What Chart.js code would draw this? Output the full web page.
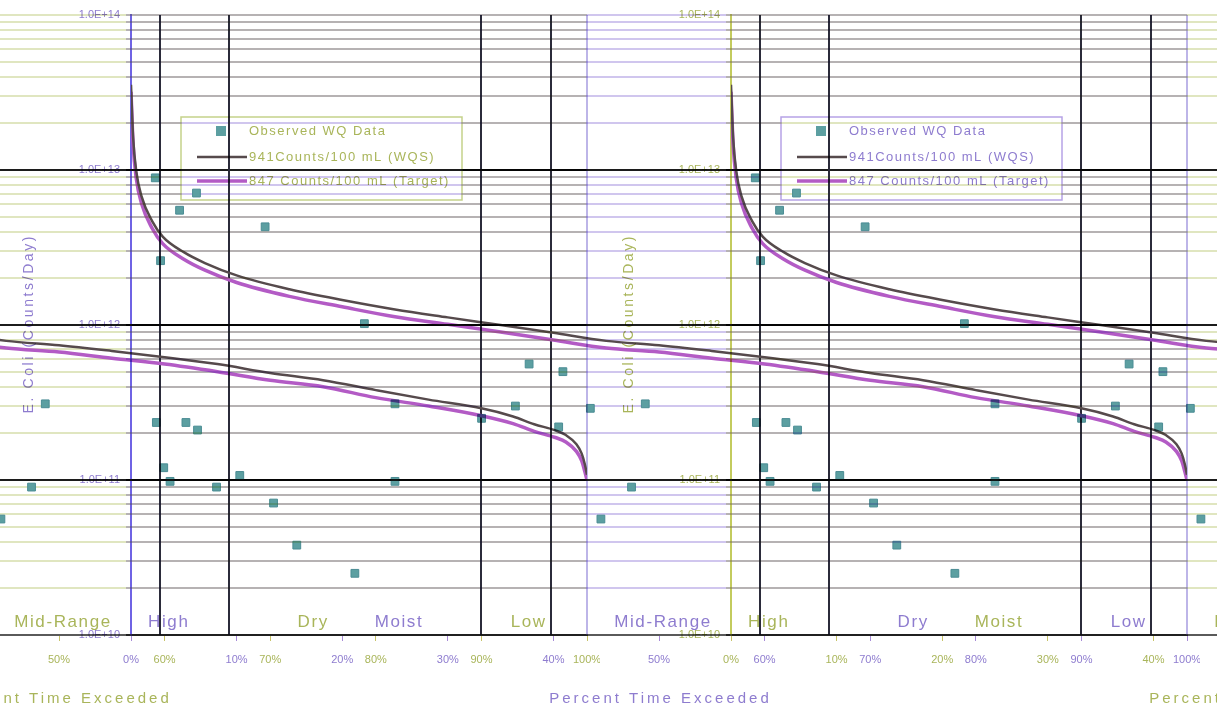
<!DOCTYPE html>
<html>
<head>
<meta charset="utf-8">
<script src="https://cdn.jsdelivr.net/npm/chart.js@4.4.0/dist/chart.umd.min.js"></script>
<style>
  html, body { margin: 0; padding: 0; background: #fff; }
  #wrap { position: relative; width: 1217px; height: 713px; overflow: hidden; background: #fff; isolation: isolate; }
  #wrap canvas { position: absolute; top: 0; mix-blend-mode: multiply; }
</style>
</head>
<body>
<div id="wrap">
  <canvas id="tileL" width="1200" height="713" style="left:-600px"></canvas>
  <canvas id="tileM" width="1200" height="713" style="left:0px"></canvas>
  <canvas id="tileR" width="1200" height="713" style="left:600px"></canvas>
</div>
<script>
// load duration curve (percent of time flow exceeded -> E. coli load, counts/day)
const PCT = [0, 0.2, 0.5, 1, 2, 3, 5, 7, 10, 15, 20, 25, 30, 35, 40, 45, 50, 55, 60, 65, 70, 75, 80, 85, 90, 93, 95, 97, 98, 99, 99.5, 99.8, 100]
const WQS_LOAD = [3.55e13, 1.62e13, 9.8e12, 6.76e12, 4.68e12, 3.72e12, 2.95e12, 2.51e12, 2.09e12, 1.70e12, 1.45e12, 1.26e12, 1.12e12, 1.00e12, 8.9e11, 7.9e11, 7.4e11, 6.8e11, 6.2e11, 5.6e11, 4.9e11, 4.4e11, 3.8e11, 3.3e11, 2.9e11, 2.57e11, 2.29e11, 2.09e11, 1.95e11, 1.70e11, 1.48e11, 1.26e11, 1.08e11]
const TARGET_LOAD = [3.2e13, 1.46e13, 8.8e12, 6.08e12, 4.21e12, 3.35e12, 2.66e12, 2.26e12, 1.88e12, 1.53e12, 1.31e12, 1.13e12, 1.01e12, 9.0e11, 8.0e11, 7.1e11, 6.7e11, 6.1e11, 5.6e11, 5.0e11, 4.4e11, 4.0e11, 3.4e11, 3.0e11, 2.6e11, 2.31e11, 2.06e11, 1.88e11, 1.76e11, 1.53e11, 1.33e11, 1.13e11, 1.0e11]

// observed water quality samples
const OBS_PCT = [2.3, 4.6, 6.2, 12.7, 2.8, 22.1, 48.7, 2.4, 5.2, 6.3, 3.1, 3.7, 47.4, 8.1, 10.3, 13.5, 15.7, 21.2, 25.0, 25.0, 33.2, 37.7, 36.4, 40.9, 40.5, 43.5, 44.5]
const OBS_LOAD = [8.9e12, 5.5e12, 7.1e12, 4.3e12, 2.6e12, 1.02e12, 3.1e11, 2.35e11, 2.35e11, 2.1e11, 1.2e11, 9.8e10, 9.0e10, 9.0e10, 1.07e11, 7.1e10, 3.8e10, 2.5e10, 3.1e11, 9.8e10, 2.5e11, 5.6e11, 3.0e11, 5.0e11, 2.2e11, 2.9e11, 5.6e10]

const SERIES_NAMES = ['Observed WQ Data', '941Counts/100 mL (WQS)', '847 Counts/100 mL (Target)']

// axes
const X_TICKS = [0, 10, 20, 30, 40, 50, 60, 70, 80, 90, 100]
const X_TICK_LABELS = ['0%', '10%', '20%', '30%', '40%', '50%', '60%', '70%', '80%', '90%', '100%']
const DECADES = [1e10, 1e11, 1e12, 1e13, 1e14]
const DECADE_LABELS = ['1.0E+10', '1.0E+11', '1.0E+12', '1.0E+13', '1.0E+14']
const MINOR_STEPS = [2, 3, 4, 5, 6, 7, 8, 9]

// flow regimes
const REGIME_BOUNDS = [9.3, 39.8, 59.6, 90]
const REGIME_NAMES = ['High', 'Moist', 'Mid-Range', 'Dry', 'Low']
const REGIME_LABEL_AT = [3.5, 25.3, 50.3, 74, 94.4]

const FONT = '"Liberation Sans", Arial, sans-serif'
const LEGEND_BOX = { left: 781, top: 117, width: 281, height: 83 }

// each tile gets its own colour cast (the picture is a folded, colour shifted copy)
const PURPLE = { text: '#8e7ccf', grid: '#d0c6ee', frame: '#6f63e4', tick: '#a88bd8', box: '#b6a3e6' }
const OLIVE = { text: '#a9b55a', grid: '#e0e6c0', frame: '#c3cb5e', tick: '#c8c46a', box: '#c5d28a' }

const Y_TICKS = []
DECADES.forEach((d, i) => {
  Y_TICKS.push(d)
  if (i < DECADES.length - 1) MINOR_STEPS.forEach(m => Y_TICKS.push(d * m))
})

const spacedText = (ctx, text, x, y, spacing) => {
  ctx.letterSpacing = spacing + 'px'
  ctx.fillText(text, x + spacing / 2, y)
  ctx.letterSpacing = '0px'
}

const makeDecor = (pal) => ({
  id: 'tileDecor',
  beforeDatasetsDraw: (chart) => {
    const { ctx, chartArea: a } = chart
    const x = chart.scales.x
    ctx.save()
    ctx.lineWidth = 2
    ctx.strokeStyle = '#2b2b3a'
    REGIME_BOUNDS.forEach(b => {
      const px = Math.round(x.getPixelForValue(b))
      ctx.beginPath()
      ctx.moveTo(px, a.top)
      ctx.lineTo(px, a.bottom)
      ctx.stroke()
    })
    // right edge of the plot
    ctx.strokeStyle = '#a79de0'
    ctx.lineWidth = 1.5
    ctx.beginPath()
    ctx.moveTo(a.right, a.top)
    ctx.lineTo(a.right, a.bottom)
    ctx.stroke()
    ctx.restore()
  },
  afterDraw: (chart) => {
    const { ctx, chartArea: a } = chart
    const x = chart.scales.x
    ctx.save()

    // regime names along the bottom
    ctx.fillStyle = pal.text
    ctx.font = '17px ' + FONT
    ctx.textAlign = 'center'
    ctx.textBaseline = 'alphabetic'
    REGIME_NAMES.forEach((n, i) => {
      spacedText(ctx, n, x.getPixelForValue(REGIME_LABEL_AT[i]), a.bottom - 8, 1.6)
    })

    // axis titles
    ctx.font = '15px ' + FONT
    spacedText(ctx, 'Percent Time Exceeded', x.getPixelForValue(50), 703, 3)
    ctx.save()
    ctx.translate(29, (a.top + a.bottom) / 2)
    ctx.rotate(-Math.PI / 2)
    ctx.font = '14px ' + FONT
    ctx.textBaseline = 'middle'
    spacedText(ctx, 'E. Coli (Counts/Day)', 0, 0, 2.6)
    ctx.restore()

    // legend box
    const b = LEGEND_BOX
    ctx.fillStyle = '#fff'
    ctx.fillRect(b.left, b.top, b.width, b.height)
    ctx.strokeStyle = pal.box
    ctx.lineWidth = 1.5
    ctx.strokeRect(b.left, b.top, b.width, b.height)
    const ds = chart.data.datasets
    const rows = [b.top + 14, b.top + 40, b.top + 64]
    ds.forEach((d, i) => {
      const cy = rows[i]
      if (i === 0) {
        ctx.fillStyle = d.backgroundColor
        ctx.fillRect(b.left + 35, cy - 5, 10, 10)
      } else {
        ctx.strokeStyle = d.borderColor
        ctx.lineWidth = d.borderWidth
        ctx.beginPath()
        ctx.moveTo(b.left + 16, cy)
        ctx.lineTo(b.left + 66, cy)
        ctx.stroke()
      }
      ctx.fillStyle = pal.text
      ctx.font = '13px ' + FONT
      ctx.textAlign = 'left'
      ctx.textBaseline = 'middle'
      ctx.letterSpacing = '1.5px'
      ctx.fillText(d.label, b.left + 68, cy)
      ctx.letterSpacing = '0px'
    })
    ctx.restore()
  }
})

const buildTile = (canvas, pal) => {
  return new Chart(canvas, {
    type: 'scatter',
    data: {
      datasets: [
        {
          label: SERIES_NAMES[0],
          data: OBS_PCT.map((p, i) => ({ x: p, y: OBS_LOAD[i] })),
          pointStyle: 'rect',
          pointRadius: 5.5,
          backgroundColor: '#5c9fa1',
          borderColor: '#4a8c94',
          borderWidth: 1,
          order: 0
        },
        {
          label: SERIES_NAMES[1],
          type: 'line',
          data: PCT.map((p, i) => ({ x: p, y: WQS_LOAD[i] })),
          borderColor: '#564a4c',
          borderWidth: 2.5,
          pointRadius: 0,
          cubicInterpolationMode: 'monotone',
          order: 1
        },
        {
          label: SERIES_NAMES[2],
          type: 'line',
          data: PCT.map((p, i) => ({ x: p, y: TARGET_LOAD[i] })),
          borderColor: '#b35bc5',
          borderWidth: 3.5,
          pointRadius: 0,
          cubicInterpolationMode: 'monotone',
          order: 2
        }
      ]
    },
    options: {
      responsive: false,
      animation: false,
      devicePixelRatio: 1,
      layout: { padding: { top: 15, right: 13, bottom: 0, left: 0 } },
      plugins: { legend: { display: false }, tooltip: { enabled: false } },
      scales: {
        x: {
          type: 'linear',
          min: 0,
          max: 100,
          afterBuildTicks: (s) => { s.ticks = X_TICKS.map(v => ({ value: v })) },
          afterFit: (s) => {
            s.height = 78
            s.paddingLeft = 0
            s.paddingRight = 0
          },
          grid: { drawOnChartArea: false, drawTicks: true, tickLength: 6, color: pal.tick, lineWidth: 1 },
          border: { display: true, color: '#5a5a5a', width: 2 },
          ticks: {
            color: pal.text,
            font: { family: FONT, size: 11 },
            padding: 12,
            maxRotation: 0,
            autoSkip: false,
            callback: (v, i) => X_TICK_LABELS[i]
          }
        },
        y: {
          type: 'logarithmic',
          min: DECADES[0],
          max: DECADES[DECADES.length - 1],
          afterBuildTicks: (s) => { s.ticks = Y_TICKS.map(v => ({ value: v })) },
          afterFit: (s) => { s.width = 131 },
          grid: {
            drawTicks: true,
            tickLength: 5,
            lineWidth: 2,
            color: (c) => {
              const v = c.tick && c.tick.value
              if (v === 1e11 || v === 1e12 || v === 1e13) return '#1c1c1c'
              if (v === 1e10) return '#606060'
              return pal.grid
            }
          },
          border: { display: true, color: pal.frame, width: 2 },
          ticks: {
            color: pal.text,
            font: { family: FONT, size: 11 },
            padding: 6,
            autoSkip: false,
            callback: (v) => {
              const k = DECADES.indexOf(v)
              return k >= 0 ? DECADE_LABELS[k] : ''
            }
          }
        }
      }
    },
    plugins: [makeDecor(pal)]
  })
}

buildTile(document.getElementById('tileL'), OLIVE)
buildTile(document.getElementById('tileM'), PURPLE)
buildTile(document.getElementById('tileR'), OLIVE)
</script>
</body>
</html>
